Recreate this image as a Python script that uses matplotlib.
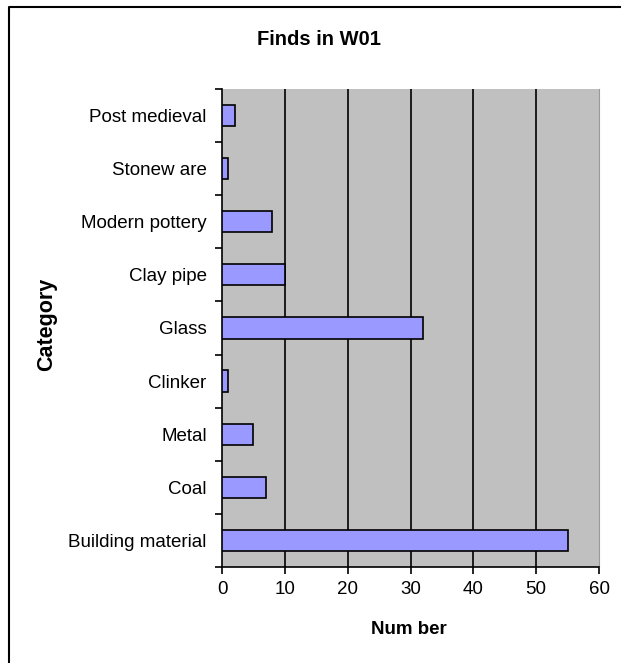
import matplotlib.pyplot as plt
from matplotlib.lines import Line2D

plt.rcParams['font.family'] = ['Liberation Sans', 'DejaVu Sans']

# Finds per category, bottom to top as drawn
categories = ['Building material', 'Coal', 'Metal', 'Clinker', 'Glass',
              'Clay pipe', 'Modern pottery', 'Stonew are', 'Post medieval']
counts = [55, 7, 5, 1, 32, 10, 8, 1, 2]
x_ticks = [0, 10, 20, 30, 40, 50, 60]

fig = plt.figure(figsize=(6.21, 6.63), dpi=100)
ax = fig.add_axes([0.3575, 0.1448, 0.6071, 0.7210])

ax.set_facecolor('#C0C0C0')
pos = list(range(len(categories)))
ax.barh(pos, counts, height=0.4, color='#9999FF', edgecolor='black',
        linewidth=1.2, zorder=3)

ax.set_xlim(0, 60)
ax.set_ylim(-0.5, len(categories) - 0.5)
ax.set_xticks(x_ticks)
ax.set_xticklabels([str(t) for t in x_ticks], fontsize=13.5)
ax.set_yticks(pos)
ax.set_yticklabels(categories, fontsize=13.5)
ax.tick_params(axis='y', length=0, pad=11)
ax.set_yticks([p - 0.5 for p in pos] + [len(categories) - 0.5], minor=True)
ax.tick_params(axis='y', which='minor', length=5, width=1.2, direction='out')
ax.tick_params(axis='x', length=5, width=1.2, direction='out', pad=5)

for t in x_ticks[1:-1]:
    ax.axvline(t, color='black', linewidth=1.2, zorder=1)

ax.spines['top'].set_visible(False)
ax.spines['right'].set_color('#999999')
ax.spines['left'].set_linewidth(1.2)
ax.spines['bottom'].set_linewidth(1.2)

fig.text(0.514, 0.940, 'Finds in W01', fontsize=14.5, fontweight='bold',
         ha='center', va='center')
fig.text(0.658, 0.0505, 'Num ber', fontsize=13.5, fontweight='bold',
         ha='center', va='center')
fig.text(0.075, 0.511, 'Category', fontsize=15.5, fontweight='bold',
         ha='center', va='center', rotation=90)

# chart border, only left and top edges show
fig.lines.append(Line2D([0.0145, 0.0145, 1.0], [0.0, 0.9895, 0.9895],
                        transform=fig.transFigure, color='black', linewidth=1.5))

fig.savefig('out.png', dpi=100)
